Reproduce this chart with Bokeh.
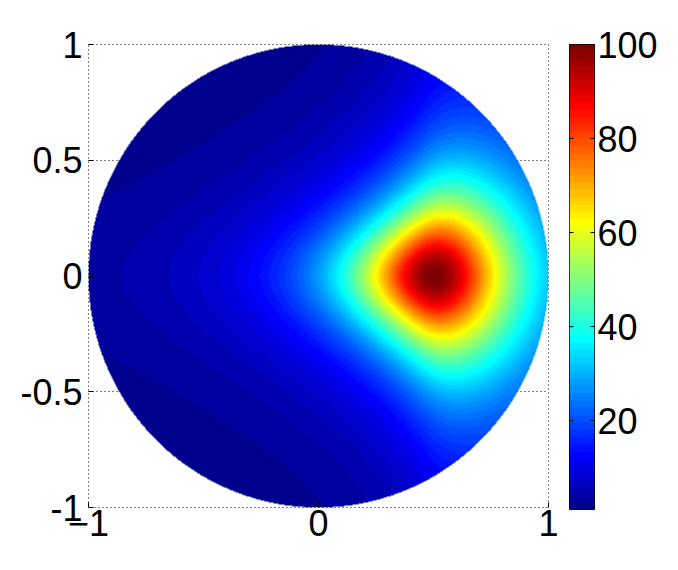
import numpy as np
from bokeh.plotting import figure
from bokeh.models import LinearColorMapper, FixedTicker, Range1d
from bokeh.layouts import row
from bokeh.embed import file_html
from bokeh.resources import INLINE

# ---- chart values ----
X_TICKS = [-1, 0, 1]
Y_TICKS = [-1, -0.5, 0, 0.5, 1]
Y_TICK_LABELS = {-1: "-1", -0.5: "-0.5", 0: "0", 0.5: "0.5", 1: "1"}
CBAR_TICKS = [20, 40, 60, 80, 100]
CMIN = 1.1
CMAX = 100.0
N_COLORS = 64

# field description: single peak on the unit disk
PEAK_X = 0.5
PEAK_Y = 0.0
PEAK_VALUE = 100.0
HALF_WIDTH = 0.365     # distance where the value falls to ~63 %
TAIL_POWER = 1.2
NORM_P = 1.85          # slightly diamond-like contours
WEST_STRETCH = 4.0     # faster vertical fall-off west of the peak
SOFTNESS = 0.12
EDGE_BOOST = 0.15      # slight lift near the rim
NX, NY = 460, 463

FONT = "Liberation Sans"


def jet(n):
    m = int(np.ceil(n / 4))
    u = np.concatenate([np.arange(1, m + 1) / m, np.ones(m - 1), np.arange(m, 0, -1) / m])
    g = int(np.ceil(m / 2)) - (1 if n % 4 == 1 else 0) + np.arange(1, len(u) + 1)
    r = g + m
    b = g - m
    J = np.zeros((n, 3))
    gm = g[g <= n]
    rm = r[r <= n]
    bm = b[b >= 1]
    J[rm - 1, 0] = u[:len(rm)]
    J[gm - 1, 1] = u[:len(gm)]
    J[bm - 1, 2] = u[len(u) - len(bm):]
    return ["#%02x%02x%02x" % tuple(int(round(c * 255)) for c in rowc) for rowc in J]


palette = jet(N_COLORS)

xs = -1 + (np.arange(NX) + 0.5) * 2.0 / NX
ys = -1 + (np.arange(NY) + 0.5) * 2.0 / NY
X, Y = np.meshgrid(xs, ys)
dx = X - PEAK_X
dy = Y - PEAK_Y
west = 0.5 * (-dx + np.sqrt(dx ** 2 + SOFTNESS ** 2)) - 0.5 * SOFTNESS
stretch = 1 + WEST_STRETCH * west
D = (np.abs(dx) ** NORM_P + (np.abs(dy) * np.sqrt(stretch)) ** NORM_P) ** (1.0 / NORM_P)
base = 1.0 / (1.0 + (D / HALF_WIDTH) ** 2) ** TAIL_POWER
R = np.sqrt(X ** 2 + Y ** 2)
r0 = np.hypot(PEAK_X, PEAK_Y)
boost = (1 + EDGE_BOOST * R ** 4) / (1 + EDGE_BOOST * r0 ** 4)
F = PEAK_VALUE * base * boost
F[R > 1.0] = np.nan
F = F.astype(np.float32)

mapper = LinearColorMapper(palette=palette, low=CMIN, high=CMAX, nan_color="rgba(0, 0, 0, 0)")

# ---- main plot ----
p = figure(frame_width=460, frame_height=463,
           x_range=Range1d(-1, 1), y_range=Range1d(-1, 1),
           output_backend="svg", toolbar_location=None,
           min_border_left=88, min_border_top=44, min_border_right=10, min_border_bottom=55)
p.image(image=[F], x=-1, y=-1, dw=2, dh=2, color_mapper=mapper)

p.xaxis.ticker = FixedTicker(ticks=X_TICKS)
p.yaxis.ticker = FixedTicker(ticks=Y_TICKS)
p.yaxis.major_label_overrides = Y_TICK_LABELS
for ax in (p.xaxis[0], p.yaxis[0]):
    ax.axis_line_color = None
    ax.major_tick_in = 5
    ax.major_tick_out = 0
    ax.major_tick_line_color = "black"
    ax.minor_tick_line_color = None
    ax.major_label_text_font = FONT
    ax.major_label_text_font_size = "36px"
    ax.major_label_text_color = "black"
p.xaxis.major_label_standoff = 2
p.yaxis.major_label_standoff = 6

p.xgrid.ticker = FixedTicker(ticks=X_TICKS)
p.ygrid.ticker = FixedTicker(ticks=Y_TICKS)
for gr in (p.xgrid[0], p.ygrid[0]):
    gr.grid_line_color = "black"
    gr.grid_line_dash = "1 3"
    gr.grid_line_width = 1
    gr.grid_line_alpha = 1.0
p.outline_line_color = "black"
p.outline_line_dash = "1 3"
p.outline_line_width = 1
p.background_fill_color = "white"
p.border_fill_color = "white"

# ---- colour bar ----
step = (CMAX - CMIN) / N_COLORS
centers = CMIN + (np.arange(N_COLORS) + 0.5) * step
cb = figure(frame_width=25, frame_height=465,
            x_range=Range1d(0, 1), y_range=Range1d(CMIN, CMAX),
            y_axis_location="right",
            output_backend="svg", toolbar_location=None,
            min_border_left=11, min_border_top=43, min_border_right=60, min_border_bottom=54)
cb.image(image=[centers.reshape(-1, 1)], x=0, y=CMIN, dw=1, dh=CMAX - CMIN, color_mapper=mapper)
# inward tick marks on the left edge of the bar
cb.segment(x0=[0] * len(CBAR_TICKS), x1=[0.16] * len(CBAR_TICKS),
           y0=CBAR_TICKS, y1=CBAR_TICKS, line_color="black", line_width=1)
cb.xaxis.visible = False
cb.xgrid.visible = False
cb.ygrid.visible = False
cb.yaxis.ticker = FixedTicker(ticks=CBAR_TICKS)
ax = cb.yaxis[0]
ax.axis_line_color = None
ax.major_tick_in = 4
ax.major_tick_out = 0
ax.major_tick_line_color = "black"
ax.minor_tick_line_color = None
ax.major_label_text_font = FONT
ax.major_label_text_font_size = "36px"
ax.major_label_text_color = "black"
ax.major_label_standoff = 3
cb.outline_line_color = "black"
cb.outline_line_width = 1
cb.border_fill_color = "white"

layout = row(p, cb)
open("out.html", "w").write(file_html(layout, INLINE))
